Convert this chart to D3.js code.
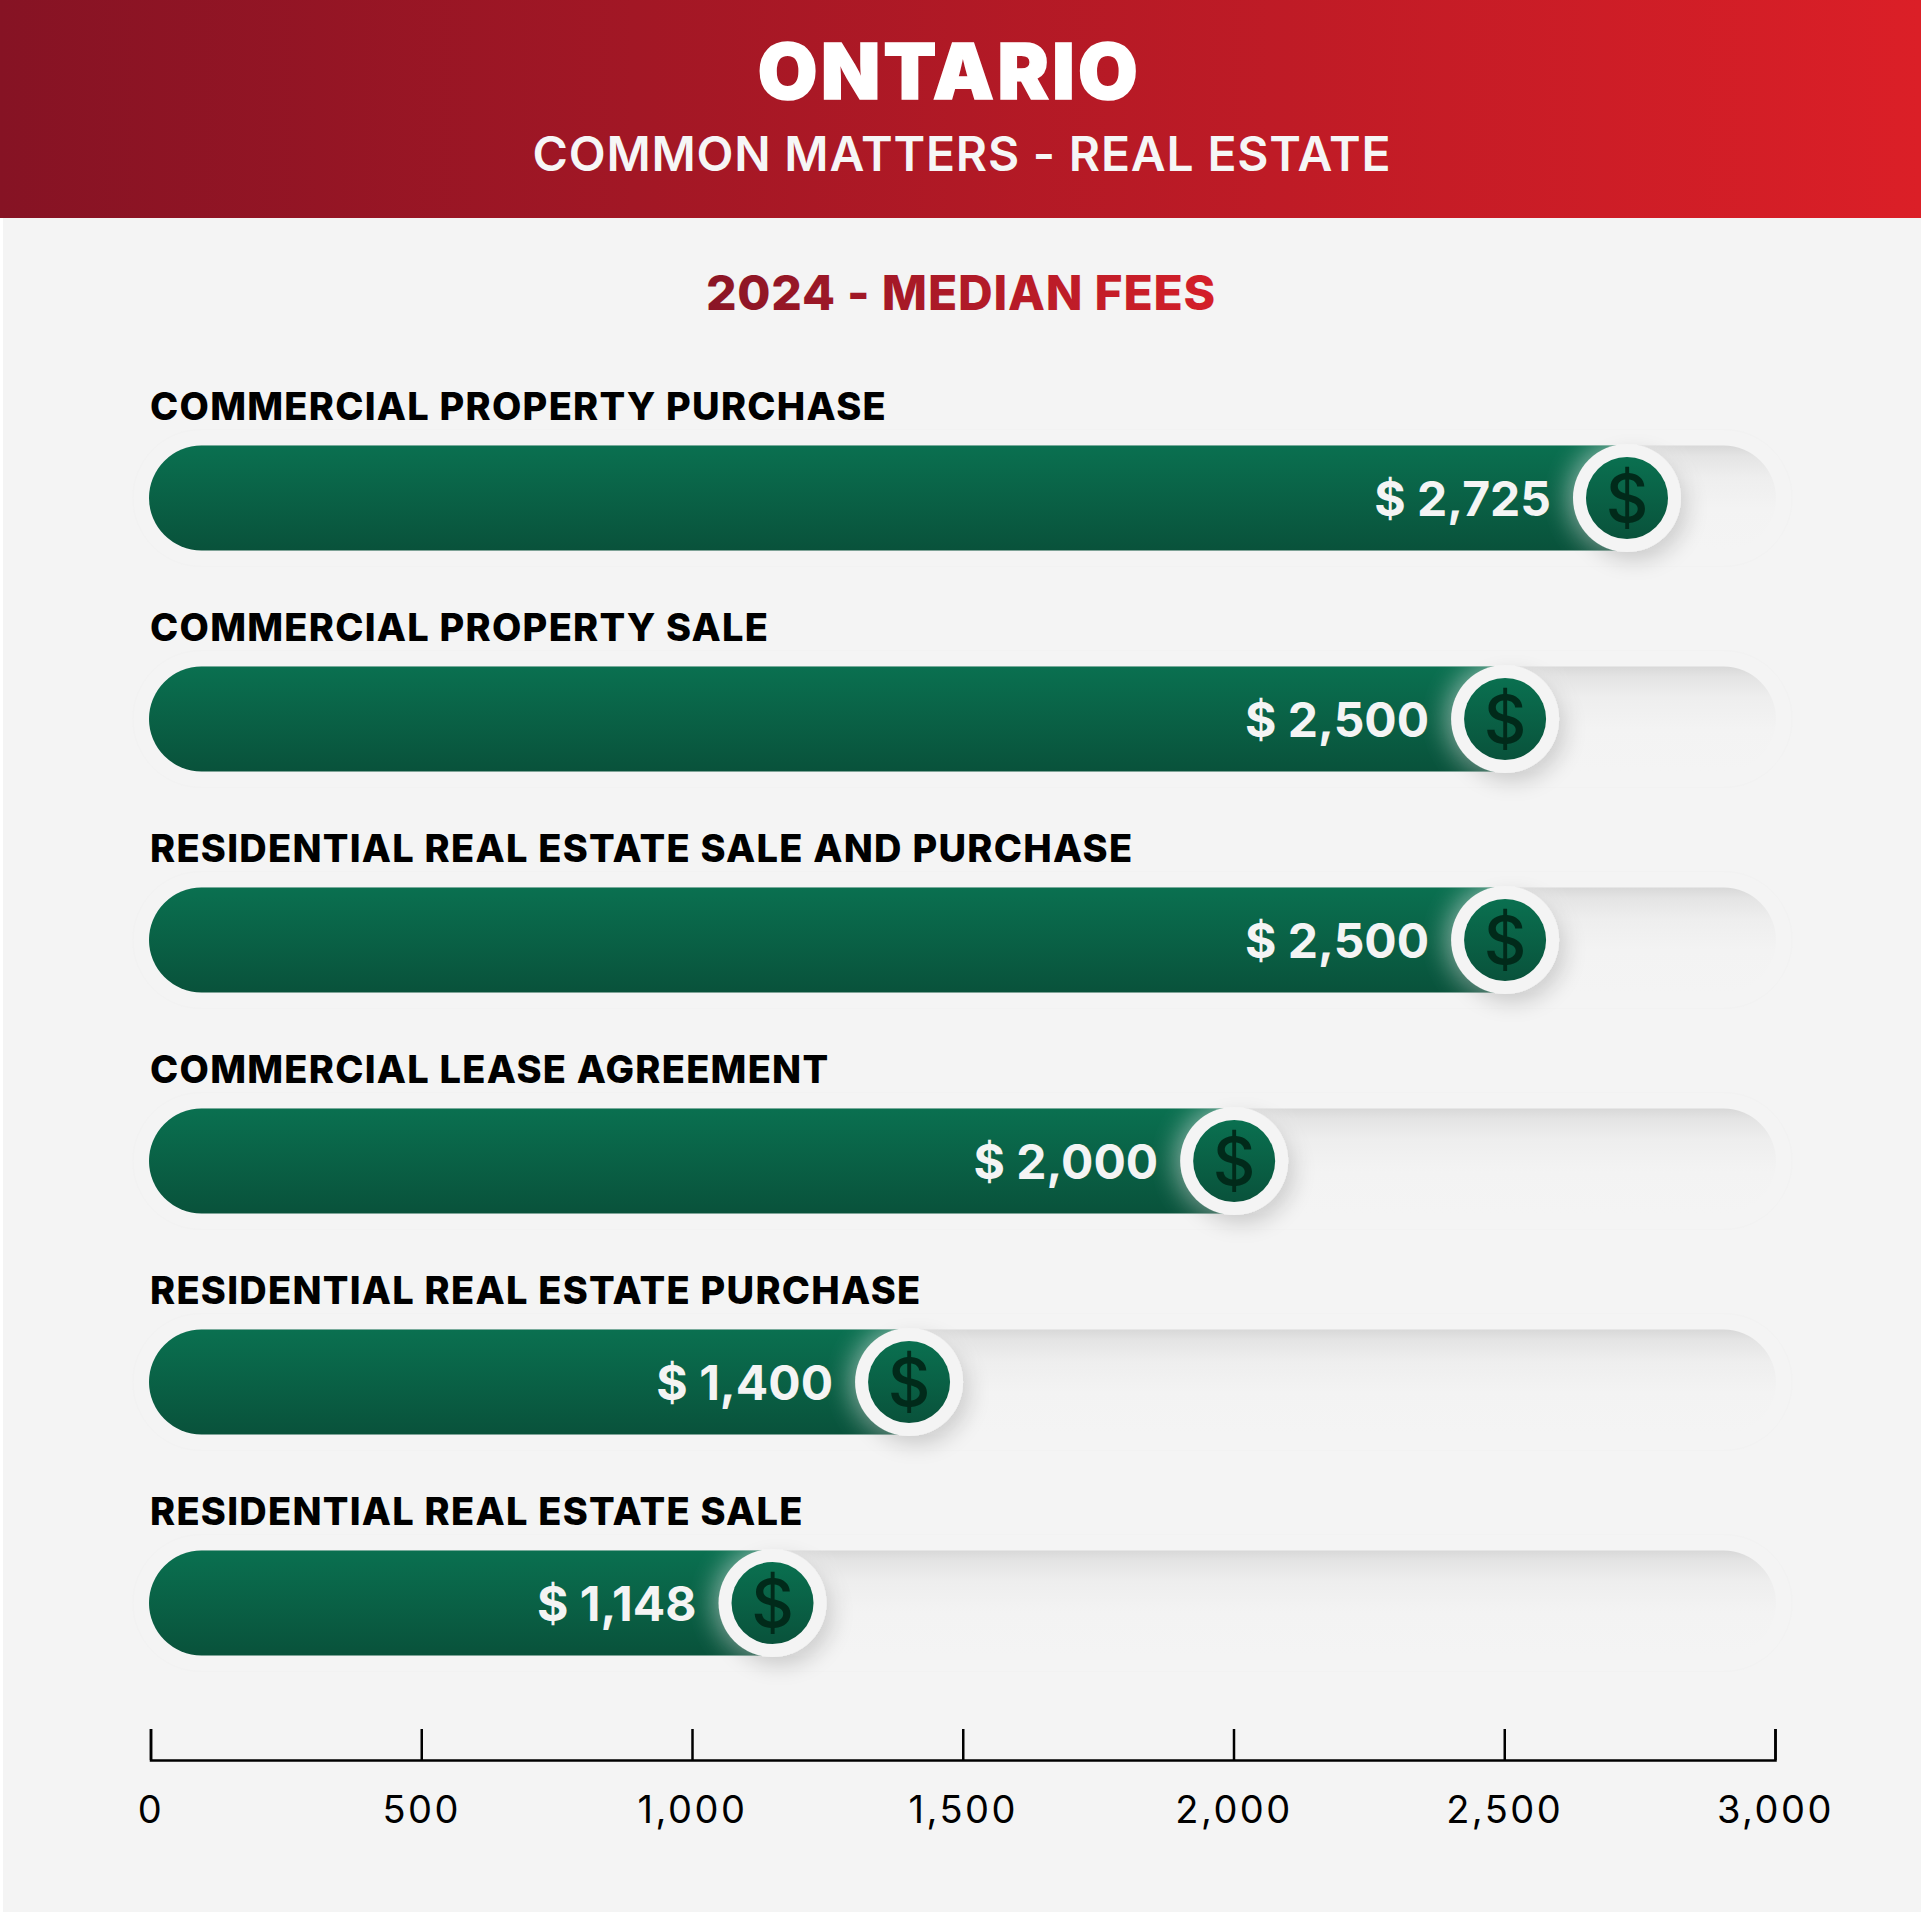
<!DOCTYPE html>
<html>
<head>
<meta charset="utf-8">
<script src="https://cdn.jsdelivr.net/npm/d3@7"></script>
<style>
  html, body { margin: 0; padding: 0; background: #f4f4f4; }
  svg { display: block; }
</style>
</head>
<body>
<div id="container"></div>
<script>
let categories = [
  "COMMERCIAL PROPERTY PURCHASE",
  "COMMERCIAL PROPERTY SALE",
  "RESIDENTIAL REAL ESTATE SALE AND PURCHASE",
  "COMMERCIAL LEASE AGREEMENT",
  "RESIDENTIAL REAL ESTATE PURCHASE",
  "RESIDENTIAL REAL ESTATE SALE"
];
let fees = [2725, 2500, 2500, 2000, 1400, 1148];
let tickValues = [0, 500, 1000, 1500, 2000, 2500, 3000];

let w = 1921;
let h = 1912;
let fontName = "Inter, 'Noto Sans', sans-serif";

let viz = d3.select("#container")
  .append("svg")
    .attr("width", w)
    .attr("height", h)
    .style("background-color", "#f4f4f4")
;

let defs = viz.append("defs");

function addGradient(id, x2, y2, stops){
  let g = defs.append("linearGradient")
    .attr("id", id)
    .attr("x1", 0).attr("y1", 0)
    .attr("x2", x2).attr("y2", y2);
  stops.forEach(function(s){
    g.append("stop").attr("offset", s[0]).attr("stop-color", s[1]);
  });
}
addGradient("headerGrad", 1, 0, [[0, "#861324"], [1, "#db1f27"]]);
addGradient("subGrad", 1, 0, [[0, "#8a1526"], [1, "#d41f29"]]);
addGradient("barGrad", 0, 1, [[0, "#0a7050"], [1, "#09523b"]]);
addGradient("trackGrad", 0, 1, [[0, "#d8d8d8"], [0.1, "#e4e4e4"], [0.3, "#eeeeee"], [0.6, "#f3f3f3"], [1, "#f4f4f4"]]);

let shadow = defs.append("filter").attr("id", "knobShadow")
  .attr("x", "-50%").attr("y", "-50%").attr("width", "200%").attr("height", "200%");
shadow.append("feDropShadow")
  .attr("dx", 7).attr("dy", 9).attr("stdDeviation", 10)
  .attr("flood-color", "#000").attr("flood-opacity", 0.16);

let glow = defs.append("filter").attr("id", "glow")
  .attr("x", "-50%").attr("y", "-50%").attr("width", "200%").attr("height", "200%");
glow.append("feGaussianBlur").attr("stdDeviation", 14);

// scales
let xScale = d3.scaleLinear().domain([0, 3000]).range([150.5, 1776]);
let axisScale = d3.scaleLinear().domain([0, 3000]).range([150.5, 1775]);
let yScale = d3.scalePoint().domain(categories).range([498, 1603]);

let barH = 105;
let knobOuter = 54;
let knobInner = 41;
let trackLeft = 149;
let trackRight = 1776;

// header
viz.append("rect")
  .attr("width", w).attr("height", 218)
  .attr("fill", "url(#headerGrad)");
viz.append("rect")
  .attr("y", 218).attr("width", 3).attr("height", h - 218)
  .attr("fill", "#fff");

viz.append("text")
  .text("ONTARIO")
  .attr("x", 949.5).attr("y", 99)
  .attr("text-anchor", "middle")
  .attr("fill", "#fff")
  .attr("stroke", "#fff").attr("stroke-width", 1.5)
  .style("font-family", fontName)
  .style("font-weight", 900)
  .style("font-size", "77px")
  .style("letter-spacing", "3.4px");

viz.append("text")
  .text("COMMON MATTERS - REAL ESTATE")
  .attr("x", 962).attr("y", 171)
  .attr("text-anchor", "middle")
  .attr("fill", "#f6f6f6")
  .style("font-family", fontName)
  .style("font-weight", 600)
  .style("font-size", "48px")
  .style("letter-spacing", "0.8px");

viz.append("text")
  .text("2024 - MEDIAN FEES")
  .attr("x", 961).attr("y", 310)
  .attr("text-anchor", "middle")
  .attr("fill", "url(#subGrad)")
  .style("font-family", fontName)
  .style("font-weight", 800)
  .style("font-size", "48px")
  .style("letter-spacing", "0.8px");

let rows = viz.selectAll(".row").data(fees).enter()
  .append("g")
    .classed("row", true)
    .attr("transform", function(d, i){ return "translate(0," + yScale(categories[i]) + ")"; })
;

rows.append("text")
  .text(function(d, i){ return categories[i]; })
  .attr("x", 150)
  .attr("y", -78)
  .attr("fill", "#000")
  .style("font-family", fontName)
  .style("font-weight", 800)
  .style("font-size", "38px")
  .style("letter-spacing", "1.25px");

// track: very pale outline, then the shaded trough that fades out downward
rows.append("rect")
  .attr("x", trackLeft - 16).attr("y", -barH / 2 - 16)
  .attr("width", trackRight - trackLeft + 32).attr("height", barH + 32)
  .attr("rx", 68)
  .attr("fill", "none").attr("stroke", "#f2f2f2");

rows.append("rect")
  .attr("x", trackLeft).attr("y", -barH / 2)
  .attr("width", trackRight - trackLeft).attr("height", barH)
  .attr("rx", barH / 2)
  .attr("fill", "url(#trackGrad)");

rows.append("clipPath")
  .attr("id", function(d, i){ return "track" + i; })
  .append("rect")
    .attr("x", trackLeft).attr("y", -barH / 2)
    .attr("width", trackRight - trackLeft).attr("height", barH)
    .attr("rx", barH / 2);

// green bar
rows.append("path")
  .attr("d", function(d){
    let x1 = xScale(d);
    let r = barH / 2;
    return "M" + (trackLeft + r) + "," + (-r) + "L" + x1 + "," + (-r) + "L" + x1 + "," + r +
      "L" + (trackLeft + r) + "," + r + "A" + r + "," + r + " 0 0 1 " + (trackLeft + r) + "," + (-r) + "Z";
  })
  .attr("fill", "url(#barGrad)");

// white glow where the knob sits on the bar
rows.append("g")
  .attr("clip-path", function(d, i){ return "url(#track" + i + ")"; })
  .append("circle")
    .attr("cx", function(d){ return xScale(d); })
    .attr("r", knobOuter + 2)
    .attr("fill", "#fff").attr("opacity", 0.6)
    .attr("filter", "url(#glow)");

rows.append("circle")
  .attr("cx", function(d){ return xScale(d); })
  .attr("r", knobOuter)
  .attr("fill", "#f4f4f4")
  .attr("filter", "url(#knobShadow)");

rows.append("circle")
  .attr("cx", function(d){ return xScale(d); })
  .attr("r", knobInner)
  .attr("fill", "url(#barGrad)");

rows.append("text")
  .text("$")
  .attr("x", function(d){ return xScale(d); })
  .attr("y", 24)
  .attr("text-anchor", "middle")
  .attr("fill", "#012a1a")
  .style("font-family", fontName)
  .style("font-weight", 500)
  .style("font-size", "66px");

rows.append("text")
  .text(function(d){ return "$ " + d3.format(",")(d); })
  .attr("x", function(d){ return xScale(d) - 76; })
  .attr("y", 18)
  .attr("text-anchor", "end")
  .attr("fill", "#f4f4f4")
  .style("font-family", fontName)
  .style("font-weight", 700)
  .style("font-size", "48px");

// axis at the bottom, ticks pointing up
let axis = d3.axisBottom(axisScale)
  .tickValues(tickValues)
  .tickSize(-31)
  .tickPadding(0)
  .tickFormat(d3.format(","));

let axisGroup = viz.append("g")
  .attr("transform", "translate(0,1760)")
  .call(axis);

axisGroup.select(".domain").attr("stroke", "#000").attr("stroke-width", 2.5);
axisGroup.selectAll(".tick line").attr("stroke", "#000").attr("stroke-width", 2.5);
axisGroup.selectAll(".tick text")
  .attr("y", 63)
  .attr("dy", 0)
  .attr("fill", "#000")
  .style("font-family", fontName)
  .style("font-weight", 400)
  .style("font-size", "38px")
  .style("letter-spacing", "2.5px");
</script>
</body>
</html>
